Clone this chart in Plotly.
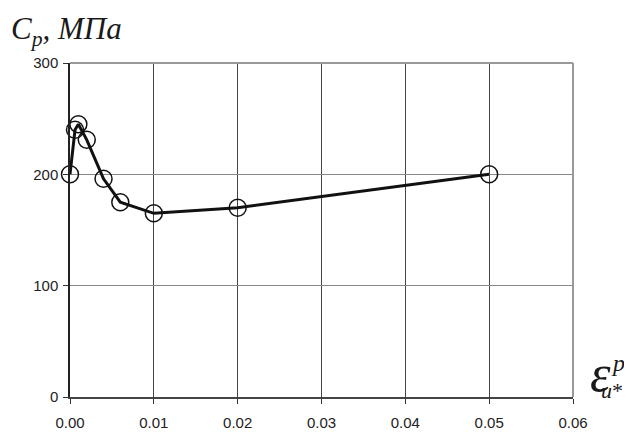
import plotly.graph_objects as go

strain = [0.0, 0.0006, 0.001, 0.002, 0.004, 0.006, 0.01, 0.02, 0.05]
cp = [200, 240, 245, 231, 196, 175, 165, 170, 200]
x_ticks = [0.0, 0.01, 0.02, 0.03, 0.04, 0.05, 0.06]
x_tick_labels = ["0.00", "0.01", "0.02", "0.03", "0.04", "0.05", "0.06"]
y_ticks = [0, 100, 200, 300]

serif = "Liberation Serif, Times New Roman"
ink = "#1a1a1a"

fig = go.Figure()
fig.add_trace(go.Scatter(
    x=strain, y=cp, mode="lines+markers",
    line=dict(color="#111111", width=3),
    marker=dict(symbol="circle-open", size=17, color="#111111", line=dict(width=1.5)),
    cliponaxis=False, showlegend=False,
))

fig.update_layout(
    width=632, height=435,
    margin=dict(l=62, r=67, t=55, b=46),
    paper_bgcolor="white", plot_bgcolor="white",
    font=dict(family="Liberation Sans, Arial", size=15, color="#222222"),
    xaxis=dict(
        range=[0, 0.06], tickvals=x_ticks, ticktext=x_tick_labels,
        showgrid=True, gridcolor="#444444", gridwidth=1,
        ticks="outside", ticklen=5, tickcolor="#333333",
        ticklabelstandoff=6,
        showline=True, linecolor="#444444", linewidth=1.5, mirror=False,
        zeroline=False, tickfont=dict(size=15),
    ),
    yaxis=dict(
        range=[0, 300], tickvals=y_ticks,
        showgrid=True, gridcolor="#888888", gridwidth=1,
        ticks="outside", ticklen=5, tickcolor="#333333",
        ticklabelstandoff=2,
        showline=True, linecolor="#222222", linewidth=1.5,
        zeroline=False, tickfont=dict(size=15),
    ),
    shapes=[
        dict(type="line", xref="paper", yref="paper", x0=0, x1=1, y0=1, y1=1,
             line=dict(color="#999999", width=2)),
        dict(type="line", xref="paper", yref="paper", x0=1, x1=1, y0=0, y1=1,
             line=dict(color="#999999", width=2)),
    ],
    annotations=[
        dict(xref="paper", yref="paper", x=0, y=1, xanchor="left", yanchor="bottom",
             xshift=-61, yshift=10,
             text="<i>C</i><sub><i>p</i></sub><i>, МПа</i>", showarrow=False,
             font=dict(family=serif, size=31, color=ink)),
        dict(xref="paper", yref="paper", x=1.0, y=0.0, xanchor="left", yanchor="middle",
             xshift=15, yshift=24,
             text="<i>ε</i>", showarrow=False,
             font=dict(family=serif, size=52, color=ink)),
        dict(xref="paper", yref="paper", x=1.0, y=0.0, xanchor="left", yanchor="middle",
             xshift=36, yshift=34,
             text="<i>p</i>", showarrow=False,
             font=dict(family=serif, size=24, color=ink)),
        dict(xref="paper", yref="paper", x=1.0, y=0.0, xanchor="left", yanchor="middle",
             xshift=26, yshift=7,
             text="<i>u</i>*", showarrow=False,
             font=dict(family=serif, size=22, color=ink)),
    ],
)

fig.write_html("out.html")
